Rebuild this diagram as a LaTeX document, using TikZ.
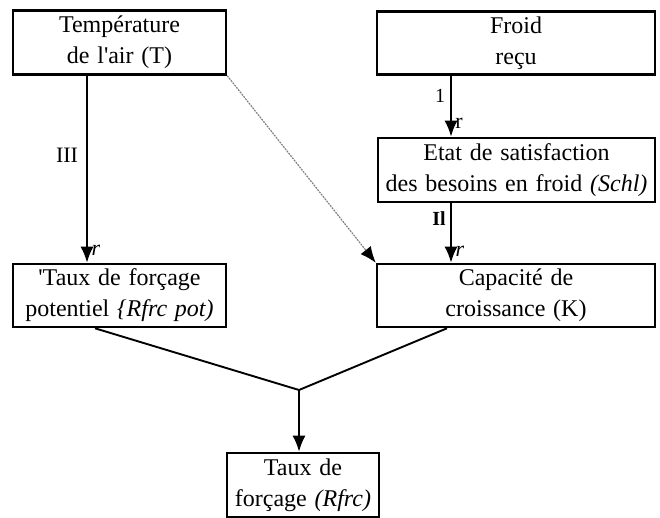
\documentclass[tikz,border=0pt]{standalone}
\usepackage{fontspec}
\setmainfont[WordSpace=1.3]{Liberation Serif}
\usetikzlibrary{arrows.meta}
\tikzset{
	boite/.style = {draw, line width=2.6pt, align=center, inner sep=0pt, font=\fontsize{24}{31}\selectfont},
	fleche/.style = {-{Latex[length=16pt,width=13pt]}, line width=1.9pt},
	etiq/.style = {font=\fontsize{22}{24}\selectfont, inner sep=0pt}
}

\begin{document}
\begin{tikzpicture}[x=1pt, y=-1pt]
				\useasboundingbox (0,0) rectangle (660,518);
				% les six boites
				\node[boite, minimum width=213pt, minimum height=64pt] (temp) at (119.5,42.5) {Température\\de l\textquotesingle air (T)};
				\node[boite, minimum width=278pt, minimum height=63pt] (froid) at (516,43) {Froid\\reçu};
				\node[boite, minimum width=277pt, minimum height=64pt] (schl) at (516.5,170) {Etat de satisfaction\\des besoins en froid \textit{(Schl)}};
				\node[boite, minimum width=213pt, minimum height=63pt] (rfrcpot) at (119.5,295.5) {\textquotesingle Taux de forçage\\potentiel \textit{\{Rfrc pot)}};
				\node[boite, minimum width=278pt, minimum height=63pt] (capK) at (516,295.5) {Capacité de\\croissance (K)};
				\node[boite, minimum width=152pt, minimum height=64pt] (rfrc) at (303,485) {Taux de\\forçage \textit{(Rfrc)}};
				\coordinate (jonction) at (299,390);
				% fleches
				\draw[fleche] ([xshift=-32.5pt]temp.south) -- ([xshift=-32.5pt]rfrcpot.north);
				\draw[fleche] ([xshift=-65pt]froid.south) -- ([xshift=-65.5pt]schl.north);
				\draw[fleche] ([xshift=-65.5pt]schl.south) -- ([xshift=-65pt]capK.north);
				\draw[fleche, -{Latex[length=16pt,width=13pt,black]}, densely dotted, line width=1.2pt, gray] (temp.south east) -- (capK.north west);
				\draw[line width=1.9pt] ([xshift=-24.5pt]rfrcpot.south) -- (jonction) -- ([xshift=-69pt]capK.south);
				\draw[fleche] (jonction) -- (jonction |- rfrc.north);
				% etiquettes
				\node[etiq] (l3) at (67,155) {III};
				\node[etiq, font=\fontsize{22}{24}\itshape] (r1) at (96,250) {r};
				\node[etiq, font=\fontsize{20}{24}\selectfont] (l1) at (440,96) {1};
				\node[etiq] (r2) at (459,123) {r};
				\node[etiq, font=\fontsize{20}{24}\bfseries] (l2) at (439,219) {Il};
				\node[etiq, font=\fontsize{22}{24}\itshape] (r3) at (460,251) {r};
			\end{tikzpicture}
\end{document}
